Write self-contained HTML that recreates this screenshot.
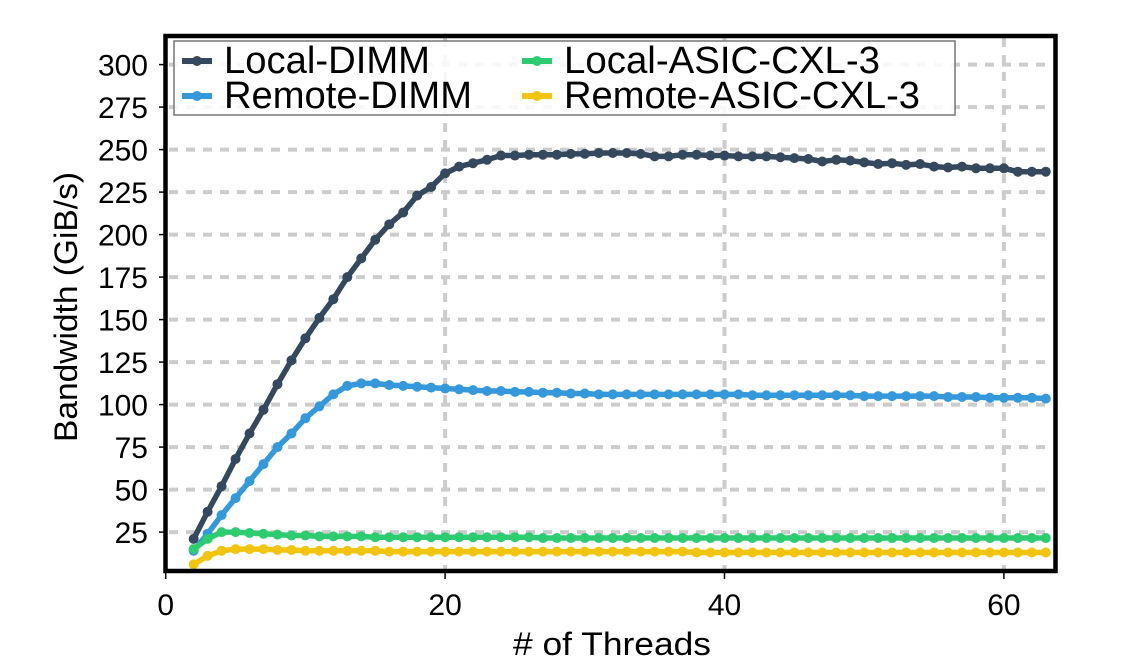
<!DOCTYPE html>
<html><head><meta charset="utf-8"><style>
html,body{margin:0;padding:0;background:#fff;}
svg{display:block;font-family:"Liberation Sans",Arial,sans-serif;}
</style></head><body>
<svg id="chart" width="1138" height="668" viewBox="0 0 1138 668" xmlns="http://www.w3.org/2000/svg">
<g id="grid"></g>
<g id="series"></g>
<rect x="165.5" y="36" width="890" height="535" fill="none" stroke="#000" stroke-width="4.5"/>
<g id="ticks"></g>
<text x="612" y="655" font-size="32" text-anchor="middle" textLength="198" lengthAdjust="spacingAndGlyphs"># of Threads</text>
<text transform="translate(77,307) rotate(-90)" font-size="32" text-anchor="middle" textLength="270" lengthAdjust="spacingAndGlyphs">Bandwidth (GiB/s)</text>
<g id="legend">
<rect x="174" y="41" width="781" height="74" fill="#fff" fill-opacity="0.85" stroke="#777" stroke-width="1.5"/>
</g>
</svg>
<script>
const threads = [];
for (let t = 2; t <= 63; t++) threads.push(t);
const localDimm = [21,37,52,68,83,97,112,126,139,151,162,175,186,197,206,213,223,228,236,240,242,244,246.5,246.5,247,247,247,247.5,247.5,248,248,248,247.5,246,246,247,247,246.5,246.5,246,246,246,245.5,245,244.5,243,244,243.5,242.5,241.5,242,241,241.5,240,239.5,240,239,239,239,237,237,237];
const remoteDimm = [14,24,35,45,55,65,75,83,92,99,106,111,112.5,112.5,111.5,111,110.5,110,109.5,109,108.5,108,108,107.5,107.5,107,107,106.5,106.5,106,106,106,106,106,106,106,106,106,106,106,105.5,105.5,105.5,105.5,105.5,105.5,105.5,105.5,105,105,105,105,105,105,104.5,104.5,104.5,104,104,104,104,103.5];
const localCxl = [15,21,25,25,24.5,24,23.5,23,23,22.5,22.5,22.5,22.5,22,22,22,22,22,22,22,22,22,22,22,22,21.5,21.5,21.5,21.5,21.5,21.5,21.5,21.5,21.5,21.5,21.5,21.5,21.5,21.5,21.5,21.5,21.5,21.5,21.5,21.5,21.5,21.5,21.5,21.5,21.5,21.5,21.5,21.5,21.5,21.5,21.5,21.5,21.5,21.5,21.5,21.5,21.5];
const remoteCxl = [6,11,14,15,15,15,14.5,14.5,14,14,14,14,14,14,13.5,13.5,13.5,13.5,13.5,13.5,13.5,13.5,13.5,13.5,13.5,13.5,13.5,13.5,13.5,13.5,13.5,13.5,13.5,13.5,13.5,13.5,13,13,13,13,13,13,13,13,13,13,13,13,13,13,13,13,13,13,13,13,13,13,13,13,13,13];
const seriesNames = ["Local-DIMM","Remote-DIMM","Local-ASIC-CXL-3","Remote-ASIC-CXL-3"];
const seriesColors = ["#34495e","#3498db","#2ecc71","#f1c40f"];
const xTicks = [0,20,40,60];
const yTicks = [25,50,75,100,125,150,175,200,225,250,275,300];

const NS = "http://www.w3.org/2000/svg";
const X0 = 165.7, XS = 13.97, Y0 = 574.6, YS = 1.70;
const xs = v => X0 + v * XS;
const ys = v => Y0 - v * YS;
function mk(tag, attrs, parent){const e=document.createElementNS(NS,tag);for(const k in attrs)e.setAttribute(k,attrs[k]);parent.appendChild(e);return e;}
const grid=document.getElementById('grid'), ticks=document.getElementById('ticks'), series=document.getElementById('series'), legend=document.getElementById('legend');
yTicks.forEach(v=>{
  const l=mk('line',{x1:169,x2:1053,y1:ys(v),y2:ys(v),stroke:'#cccccc','stroke-width':4,'stroke-dasharray':'9 8'},grid);
  
  
  const t=mk('line',{x1:159,x2:165,y1:ys(v),y2:ys(v),stroke:'#000','stroke-width':1.5},ticks);
  
  
  const tx=mk('text',{x:148,y:ys(v)+11,'font-size':30,'text-anchor':'end'},ticks);
  tx.textContent=v;
  
  
});
xTicks.forEach(v=>{
  if(v>0){const l=mk('line',{x1:xs(v),x2:xs(v),y1:38,y2:569,stroke:'#cccccc','stroke-width':4,'stroke-dasharray':'9 8'},grid);
  
  }
  const t=mk('line',{x1:xs(v),x2:xs(v),y1:573,y2:579,stroke:'#000','stroke-width':1.5},ticks);
  
  
  const tx=mk('text',{x:xs(v),y:615,'font-size':30,'text-anchor':'middle'},ticks);
  tx.textContent=v;
  
  
});
const allSeries=[localDimm,remoteDimm,localCxl,remoteCxl];
allSeries.forEach((d,i)=>{
  const g=mk('g',{},series);
  
  
  const p=mk('polyline',{points:d.map((v,j)=>xs(threads[j])+','+ys(v)).join(' '),fill:'none',stroke:seriesColors[i],'stroke-width':5.5,'stroke-linejoin':'round'},g);
  
  
  d.forEach((v,j)=>{
    const c=mk('circle',{cx:xs(threads[j]),cy:ys(v),r:5,fill:seriesColors[i]},g);
    
    
  });
});
const legPos=[[180,73],[180,108],[520,73],[520,108]];
const widths=[206,248,316,356];
seriesNames.forEach((n,i)=>{
  const [lx,ly]=legPos[i];
  const g=mk('g',{},legend);
  
  
  mk('line',{x1:lx+2,x2:lx+32,y1:ly-12,y2:ly-12,stroke:seriesColors[i],'stroke-width':6},g);
  mk('circle',{cx:lx+17,cy:ly-12,r:5,fill:seriesColors[i]},g);
  const t=mk('text',{x:lx+44,y:ly,'font-size':38,textLength:widths[i],lengthAdjust:'spacingAndGlyphs'},g);
  t.textContent=n;
});
</script>
</body></html>
